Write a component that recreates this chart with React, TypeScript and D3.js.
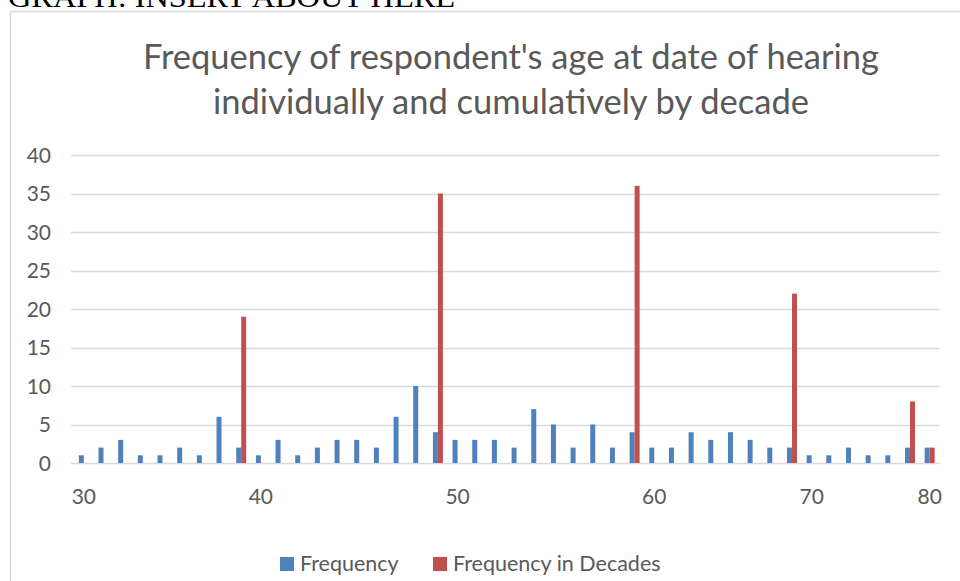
import { useEffect, useRef } from "react"
import * as d3 from "d3"

// ages that appear in the data (one column per age)
const ages = [
  30, 31, 32, 33, 34, 35, 36, 38, 39,
  40, 41, 42, 43, 44, 45, 46, 47, 48, 49,
  50, 51, 52, 53, 54, 55, 56, 57, 58, 59,
  60, 61, 62, 63, 64, 65, 67, 69,
  70, 71, 73, 75, 77, 79,
  80,
]
const frequency = [
  1, 2, 3, 1, 1, 2, 1, 6, 2,
  1, 3, 1, 2, 3, 3, 2, 6, 10, 4,
  3, 3, 3, 2, 7, 5, 2, 5, 2, 4,
  2, 2, 4, 3, 4, 3, 2, 2,
  1, 1, 2, 1, 1, 2,
  2,
]
const decadeAges = [39, 49, 59, 69, 79, 80]
const decadeTotals = [19, 35, 36, 22, 8, 2]
const tickAges = [30, 40, 50, 60, 70, 80]
const yTicks = [0, 5, 10, 15, 20, 25, 30, 35, 40]

const seriesNames = ["Frequency", "Frequency in Decades"]
const colors = ["#4F81BD", "#C0504D"]

const W = 960
const H = 581
const font = "Lato, 'Open Sans', sans-serif"
const textColor = "#595959"

const App = () => {
  const ref = useRef<SVGSVGElement>(null)

  useEffect(() => {
    const svg = d3.select(ref.current)
    svg.selectAll("*").remove()

    svg.append("rect").attr("width", W).attr("height", H).attr("fill", "#fff")

    // heading from the document, mostly cut off at the top
    svg.append("text")
      .attr("x", 8).attr("y", 7)
      .attr("font-family", "'Liberation Serif', 'Times New Roman', serif")
      .attr("font-size", 30)
      .attr("textLength", 447)
      .attr("lengthAdjust", "spacingAndGlyphs")
      .attr("fill", "#000")
      .text("GRAPH: INSERT ABOUT HERE")

    // chart frame (left and top edges visible)
    svg.append("path")
      .attr("d", `M10.5,${H} V11.5 H${W}`)
      .attr("fill", "none")
      .attr("stroke", "#D9D9D9")
      .attr("stroke-width", 1.5)

    const title = svg.append("text")
      .attr("text-anchor", "middle")
      .attr("font-family", font)
      .attr("font-size", 34.5)
      .attr("fill", textColor)
    title.append("tspan").attr("x", 511).attr("y", 69)
      .text("Frequency of respondent's age at date of hearing")
    title.append("tspan").attr("x", 511).attr("y", 114)
      .text("individually and cumulatively by decade")

    const x = d3.scaleBand<number>().domain(ages).range([74, 939.5]).paddingInner(0).paddingOuter(0)
    const xSub = d3.scaleBand<string>().domain(seriesNames).range([0, x.bandwidth()]).paddingInner(0).paddingOuter(0.967)
    const y = d3.scaleLinear().domain([0, 40]).range([463, 155])

    const grid = svg.append("g")
    grid.selectAll("line")
      .data(yTicks)
      .join("line")
      .attr("x1", 71).attr("x2", 939.5)
      .attr("y1", d => Math.round(y(d)) + 0.5)
      .attr("y2", d => Math.round(y(d)) + 0.5)
      .attr("stroke", "#D9D9D9")
      .attr("stroke-width", 1.3)

    svg.append("g")
      .attr("font-family", font)
      .attr("font-size", 21)
      .attr("fill", textColor)
      .attr("text-anchor", "end")
      .selectAll("text")
      .data(yTicks)
      .join("text")
      .attr("x", 51)
      .attr("y", d => y(d))
      .attr("dy", "0.36em")
      .text(d => d)

    svg.append("g")
      .selectAll("rect")
      .data(ages.map((a, i) => ({ age: a, v: frequency[i] })))
      .join("rect")
      .attr("x", d => (x(d.age) ?? 0) + (xSub(seriesNames[0]) ?? 0))
      .attr("width", xSub.bandwidth())
      .attr("y", d => y(d.v))
      .attr("height", d => y(0) - y(d.v))
      .attr("fill", colors[0])

    svg.append("g")
      .selectAll("rect")
      .data(decadeAges.map((a, i) => ({ age: a, v: decadeTotals[i] })))
      .join("rect")
      .attr("x", d => (x(d.age) ?? 0) + (xSub(seriesNames[1]) ?? 0))
      .attr("width", xSub.bandwidth())
      .attr("y", d => y(d.v))
      .attr("height", d => y(0) - y(d.v))
      .attr("fill", colors[1])

    svg.append("g")
      .attr("font-family", font)
      .attr("font-size", 21)
      .attr("fill", textColor)
      .attr("text-anchor", "middle")
      .selectAll("text")
      .data(tickAges)
      .join("text")
      .attr("x", d => (x(d) ?? 0) + x.bandwidth() / 2)
      .attr("y", 504)
      .text(d => d)

    // legend
    const legendX = [280, 433]
    const legend = svg.append("g").attr("font-family", font).attr("font-size", 21.5).attr("fill", textColor)
    seriesNames.forEach((name, i) => {
      legend.append("rect")
        .attr("x", legendX[i]).attr("y", 557)
        .attr("width", 14).attr("height", 14)
        .attr("fill", colors[i])
      legend.append("text")
        .attr("x", legendX[i] + 20).attr("y", 571)
        .text(name)
    })
  }, [])

  return (
    <div style={{ position: "absolute", left: 0, top: 0 }}>
      <svg ref={ref} width={W} height={H} style={{ display: "block" }} />
    </div>
  )
}

export default App
